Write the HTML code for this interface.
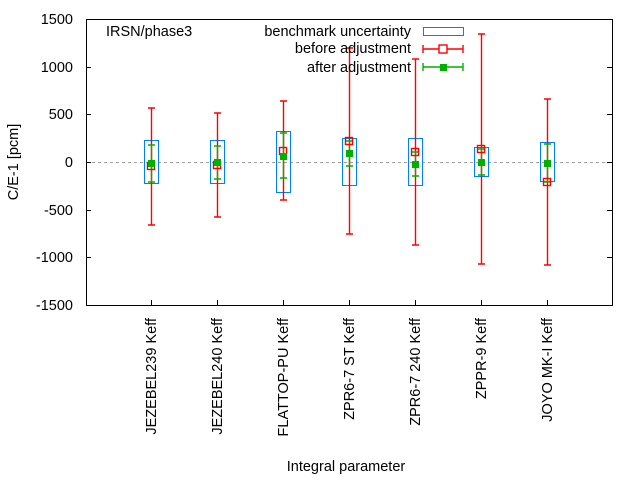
<!DOCTYPE html>
<html><head><style>body{margin:0;background:#fff}svg{display:block}text{font-family:"Liberation Sans",sans-serif;font-size:14.5px;fill:#000}</style></head><body>
<svg width="640" height="480" xmlns="http://www.w3.org/2000/svg">
<rect x="0" y="0" width="640" height="480" fill="#fff"/>
<line x1="86" y1="162.5" x2="612" y2="162.5" stroke="#a0a0a0" stroke-dasharray="3,3"/>
<g stroke="#000" stroke-width="1">
<path d="M86.5,19.5L86.5,305.5L612.5,305.5L612.5,19.5Z" fill="none"/>
<path d="M86,67.5h5M86,114.5h5M86,162.5h5M86,210.5h5M86,257.5h5M612,67.5h-5M612,114.5h-5M612,162.5h-5M612,210.5h-5M612,257.5h-5"/>
<path d="M151.5,305v-5M217.5,305v-5M283.5,305v-5M349.5,305v-5M415.5,305v-5M481.5,305v-5M547.5,305v-5"/>
</g>
<rect x="423.5" y="27.5" width="40" height="8" fill="none" stroke="#0080ff"/>
<path d="M423,49h40M423,45v8M463,45v8" stroke="#ff0000" fill="none" stroke-width="1.4"/><rect x="439" y="45" width="8" height="8" fill="#fff" stroke="#ff0000" stroke-width="1.4"/>
<path d="M423,67h40M423,63v8M463,63v8" stroke="#00b000" fill="none" stroke-width="1.4"/><rect x="440" y="64" width="7" height="7" fill="#00b000"/>
<g fill="none" stroke="#0080ff">
<rect x="144.5" y="140.5" width="14" height="43"/><rect x="210.5" y="140.5" width="14" height="43"/><rect x="276.5" y="131.5" width="14" height="61"/><rect x="342.5" y="138.5" width="14" height="47"/><rect x="408.5" y="138.5" width="14" height="47"/><rect x="474.5" y="147.5" width="14" height="29"/><rect x="540.5" y="142.5" width="14" height="39"/>
</g>
<g stroke="#ff0000" fill="none" stroke-width="1.4">
<path d="M151.5,108V225M148,108h7M148,225h7"/>
<path d="M217.5,113V217M214,113h7M214,217h7"/>
<path d="M283.5,101V200M280,101h7M280,200h7"/>
<path d="M349.5,48V234M346,48h7M346,234h7"/>
<path d="M415.5,59V245M412,59h7M412,245h7"/>
<path d="M481.5,34V264M478,34h7M478,264h7"/>
<path d="M547.5,99V265M544,99h7M544,265h7"/>
</g>
<g stroke="#00b000" fill="none" stroke-width="1.4">
<path d="M151.5,145V182M148,145h7M148,182h7"/>
<path d="M217.5,146V179M214,146h7M214,179h7"/>
<path d="M283.5,133V178M280,133h7M280,178h7"/>
<path d="M349.5,141V166M346,141h7M346,166h7"/>
<path d="M415.5,152V176M412,152h7M412,176h7"/>
<path d="M481.5,149V175M478,149h7M478,175h7"/>
<path d="M547.5,144V182M544,144h7M544,182h7"/>
</g>
<g fill="none" stroke="#ff0000" stroke-width="1.4">
<rect x="147.5" y="162.5" width="7" height="7"/><rect x="213.5" y="161.5" width="7" height="7"/><rect x="279.5" y="147.5" width="7" height="7"/><rect x="345.5" y="137.5" width="7" height="7"/><rect x="411.5" y="148.5" width="7" height="7"/><rect x="477.5" y="145.5" width="7" height="7"/><rect x="543.5" y="178.5" width="7" height="7"/>
</g>
<g fill="#00b000">
<rect x="148" y="160" width="7" height="7"/><rect x="214" y="159" width="7" height="7"/><rect x="280" y="153" width="7" height="7"/><rect x="346" y="150" width="7" height="7"/><rect x="412" y="161" width="7" height="7"/><rect x="478" y="159" width="7" height="7"/><rect x="544" y="160" width="7" height="7"/>
</g>
<g text-anchor="end">
<text x="73" y="24">1500</text><text x="73" y="72">1000</text><text x="73" y="119">500</text><text x="73" y="167">0</text><text x="73" y="215">-500</text><text x="73" y="262">-1000</text><text x="73" y="310">-1500</text>
</g>
<g text-anchor="end">
<text transform="translate(156,318) rotate(-90)">JEZEBEL239 Keff</text>
<text transform="translate(222,318) rotate(-90)">JEZEBEL240 Keff</text>
<text transform="translate(288,318) rotate(-90)">FLATTOP-PU Keff</text>
<text transform="translate(354,318) rotate(-90)">ZPR6-7 ST Keff</text>
<text transform="translate(420,318) rotate(-90)">ZPR6-7 240 Keff</text>
<text transform="translate(486,318) rotate(-90)">ZPPR-9 Keff</text>
<text transform="translate(552,318) rotate(-90)">JOYO MK-I Keff</text>
</g>
<text transform="translate(18,162) rotate(-90)" text-anchor="middle">C/E-1 [pcm]</text>
<text x="346" y="471" text-anchor="middle">Integral parameter</text>
<text x="106" y="36">IRSN/phase3</text>
<g text-anchor="end"><text x="411" y="36">benchmark uncertainty</text><text x="411" y="53">before adjustment</text><text x="411" y="72">after adjustment</text></g>
</svg>
</body></html>
